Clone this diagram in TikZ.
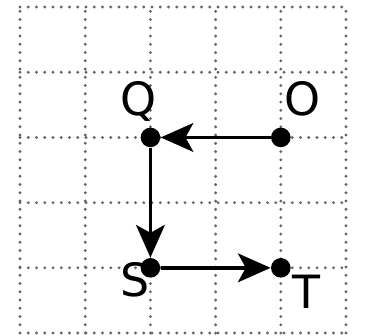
\documentclass[tikz,border=0pt]{standalone}
\usepackage{fontspec}
\setmainfont{DejaVu Sans}
\usetikzlibrary{arrows.meta}
\begin{document}
\begin{tikzpicture}[x=1cm,y=1cm,
  gridline/.style={gray!80!black, line width=1.4pt, line cap=round, dash pattern=on 0pt off 3.6pt},
  pt/.style={circle, fill=black, inner sep=0pt, minimum size=0.3cm},
  lbl/.style={font=\fontsize{20}{22}\selectfont, inner sep=0pt, anchor=base},
  conn/.style={line width=1.6pt, -{Stealth[length=0.5cm, width=0.44cm, inset=0.12cm]}}]
\useasboundingbox (-0.307,-0.03) rectangle (5.291,5.108);
\draw[gridline] (0,0) grid (5,5);
\node[pt] (O) at (4,3) {};
\node[pt] (Q) at (2,3) {};
\node[pt] (S) at (2,1) {};
\node[pt] (T) at (4,1) {};
\node[lbl] (lO) at (4.33,3.33) {O};
\node[lbl] (lQ) at (1.82,3.34) {Q};
\node[lbl] (lS) at (1.76,0.56) {S};
\node[lbl] (lT) at (4.4,0.38) {T};
\draw[conn] (O) -- (Q);
\draw[conn] (Q) -- (S);
\draw[conn] (S) -- (T);
\end{tikzpicture}
\end{document}
